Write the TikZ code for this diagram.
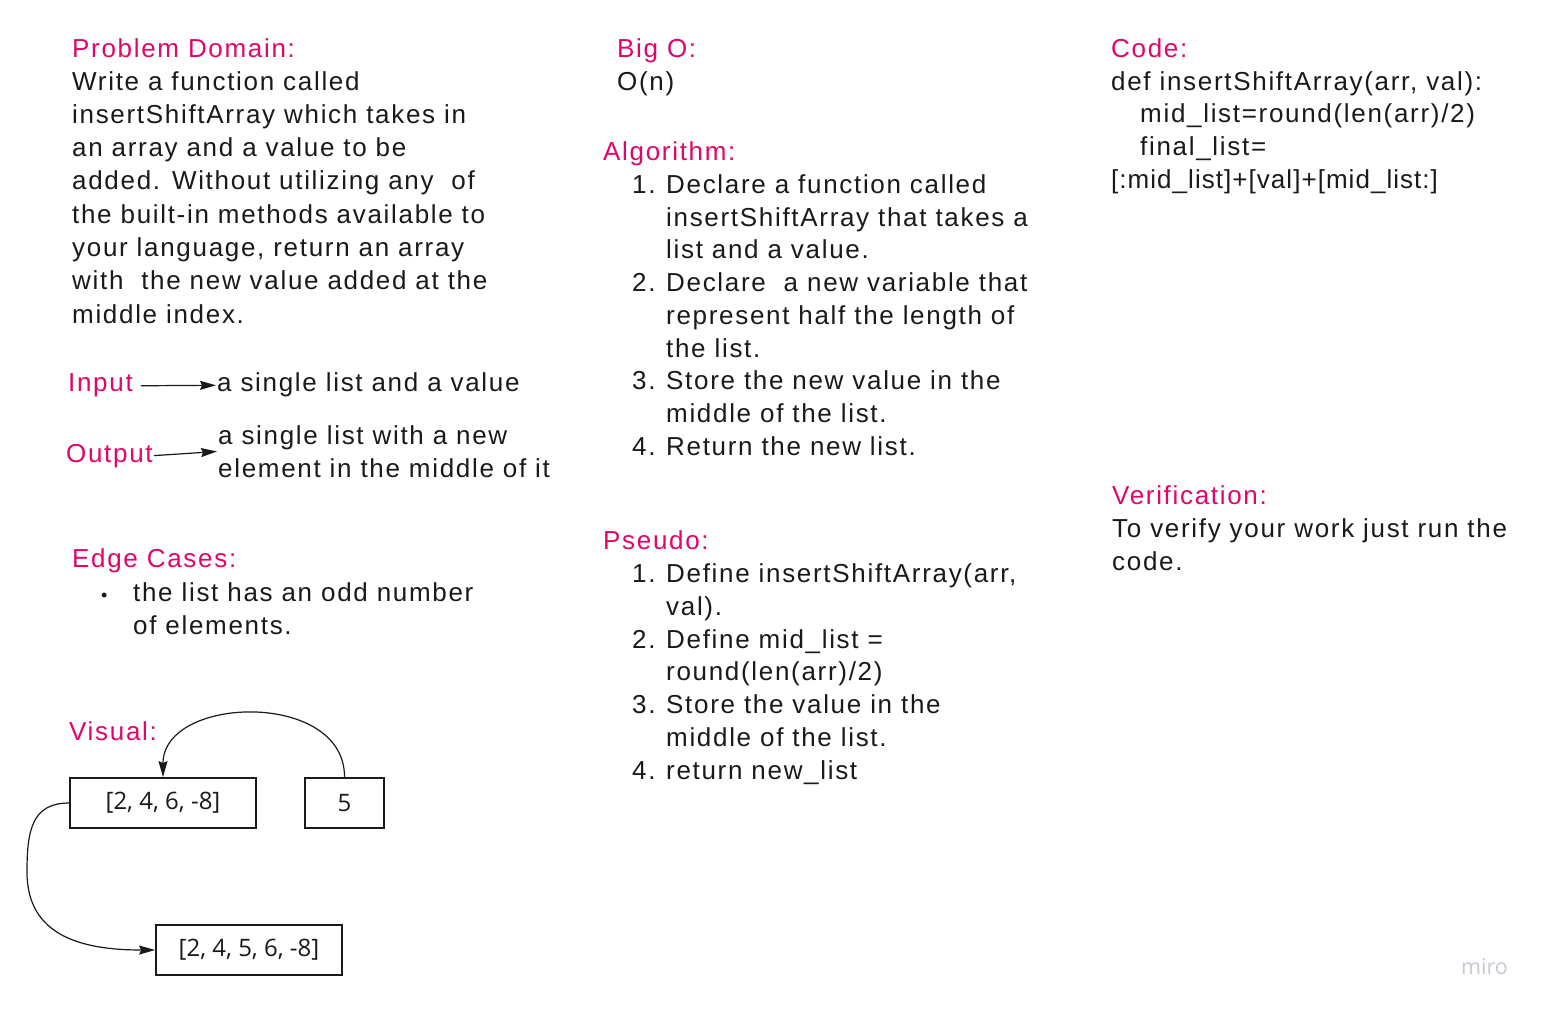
\documentclass[tikz,border=0pt]{standalone}
\usepackage{fontspec}
\setmainfont{Liberation Sans}[LetterSpace=6.5]
\newfontfamily\tightfont{Liberation Sans}[LetterSpace=4]
\newfontfamily\boxfont{Open Sans}
\usetikzlibrary{arrows.meta,calc}
\definecolor{pinkc}{RGB}{224,6,106}
\definecolor{inkc}{RGB}{26,26,26}
\definecolor{miroc}{RGB}{200,200,212}
\begin{document}
\begin{tikzpicture}[x=1pt,y=-1pt,
  txt/.style={anchor=base west,inner sep=0pt,text=inkc,font=\fontsize{26}{33}\selectfont},
  head/.style={txt,text=pinkc},
  valbox/.style={draw=inkc,line width=1.8pt,minimum height=50pt,inner sep=0pt,font=\boxfont\fontsize{24}{26}\selectfont,text=inkc},
  arr/.style={draw=inkc,line width=1.2pt,-{Stealth[length=16pt,width=9pt,inset=2pt]}}]
\useasboundingbox[fill=white] (0,0) rectangle (1546,1010);

% ---------- left column ----------
\node[head] (pdh) at (72,57) {Problem Domain:};
\foreach \t [count=\i] in {{Write a function called},{insertShiftArray which takes in},{an array and a value to be},{added. Without utilizing any\ \ of},{the built-in methods available to},{your language, return an array},{with\ \ the new value added at the},{middle index.}}
  \node[txt] (pd\i) at (72,{90+(\i-1)*33.3}) {\t};

\node[head] (inp) at (68,391) {Input};
\node[txt] (inpt) at (217,391) {a single list and a value};
\draw[arr] ([xshift=8pt,yshift=-1pt]inp.east) -- ([xshift=-1pt,yshift=-1pt]inpt.west);

\node[head] (outp) at (66,462) {Output};
\node[txt] (outt1) at (218,444) {a single list with a new};
\node[txt] (outt2) at (218,477) {element in the middle of it};
\draw[arr] ([xshift=1pt]outp.east) -- ([xshift=-1pt,yshift=1pt]$(outt1.west)!0.5!(outt2.west)$);

\node[head] (edh) at (72,567) {Edge Cases:};
\node[txt,font=\fontsize{18}{20}\selectfont] (bul) at (101,601) {•};
\node[txt] (ed1) at (133,601) {the list has an odd number};
\node[txt] (ed2) at (133,634) {of elements.};

\node[head] (vish) at (69,740) {Visual:};
\node[valbox,minimum width=186pt] (b1) at (163,803) {[2, 4, 6, -8]};
\node[valbox,minimum width=79pt] (b2) at (344.5,803) {5};
\node[valbox,minimum width=186pt] (b3) at (249,950) {[2, 4, 5, 6, -8]};
\draw[arr] (b2.north) .. controls (345,690) and (163,695) .. (b1.north);
\draw[arr] (b1.west) .. controls (32,803) and (27,830) .. (27,872) .. controls (27,935) and (80,950) .. (b3.west);

% ---------- middle column ----------
\node[head] (bigh) at (617,57) {Big O:};
\node[txt] (bigo) at (617,90) {O(n)};

\node[head] (algh) at (603,160) {Algorithm:};
\node[txt] (an1) at (632,193) {1.};
\node[txt] (an2) at (632,291) {2.};
\node[txt] (an3) at (632,389) {3.};
\node[txt] (an4) at (632,455) {4.};
\foreach \t/\y [count=\i] in {{Declare a function called}/193,{insertShiftArray that takes a}/226,{list and a value.}/258,{Declare\ \ a new variable that}/291,{represent half the length of}/324,{the list.}/357,{Store the new value in the}/389,{middle of the list.}/422,{Return the new list.}/455}
  \node[txt] (al\i) at (666,\y) {\t};

\node[head] (psh) at (603,549) {Pseudo:};
\node[txt] (pn1) at (632,582) {1.};
\node[txt] (pn2) at (632,648) {2.};
\node[txt] (pn3) at (632,713) {3.};
\node[txt] (pn4) at (632,779) {4.};
\foreach \t/\y [count=\i] in {{Define insertShiftArray(arr,}/582,{val).}/615,{Define mid\_list =}/648,{round(len(arr)/2)}/680,{Store the value in the}/713,{middle of the list.}/746,{return new\_list}/779}
  \node[txt] (ps\i) at (666,\y) {\t};

% ---------- right column ----------
\node[head] (codeh) at (1111,57) {Code:};
\node[txt] (c1) at (1111,90) {def insertShiftArray(arr, val):};
\node[txt] (c2) at (1140,122) {mid\_list=round(len(arr)/2)};
\node[txt] (c3) at (1140,155) {final\_list=};
\node[txt,font=\tightfont\fontsize{26}{33}\selectfont] (c4) at (1111,188) {[:mid\_list]+[val]+[mid\_list:]};

\node[head] (verh) at (1112,504) {Verification:};
\node[txt] (v1) at (1112,537) {To verify your work just run the};
\node[txt] (v2) at (1112,570) {code.};

\node[anchor=base west,inner sep=0pt,text=miroc,font=\boxfont\fontsize{21.5}{22}\selectfont] (miro) at (1461,974) {miro};
\end{tikzpicture}
\end{document}
